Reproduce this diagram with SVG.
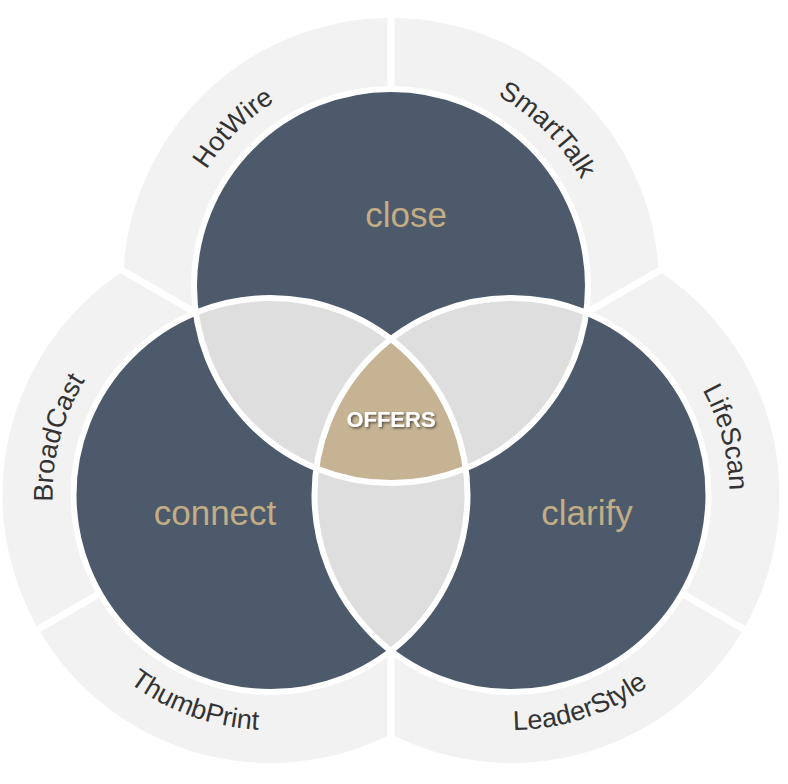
<svg xmlns="http://www.w3.org/2000/svg" width="788" height="784" viewBox="0 0 788 784">
  <style>
    .ring { fill: #f2f2f2; }
    .gap { stroke: #ffffff; stroke-width: 7; fill: none; }
    .dark { fill: #4c5a6b; }
    .lens { fill: #dedede; }
    .core { fill: #c6b393; }
    .outline { fill: none; stroke: #ffffff; stroke-width: 6; }
    .big { font-family: "Liberation Sans", Arial, sans-serif; font-size: 35px; fill: #c3ad85; text-anchor: middle; }
    .lbl { font-family: "Liberation Sans", Arial, sans-serif; font-size: 27px; fill: #333333; text-anchor: middle; }
    .core-t { font-family: "Liberation Sans", Arial, sans-serif; font-size: 22px; font-weight: bold; fill: #ffffff; text-anchor: middle; }
  </style>
  <defs>
    <filter id="sh" x="-20%" y="-40%" width="140%" height="180%">
      <feDropShadow dx="1.5" dy="1.5" stdDeviation="1" flood-color="#000000" flood-opacity="0.55"/>
    </filter>
    <path id="pHot" d="M180.4,342.4 A218,218 0 0 1 447.4,75.4"/>
    <path id="pSmart" d="M334.6,75.4 A218,218 0 0 1 601.6,342.4"/>
    <path id="pBroad" d="M116.4,649.1 A218,218 0 0 1 214.1,284.4"/>
    <path id="pLife" d="M567.9,284.4 A218,218 0 0 1 665.6,649.1"/>
    <path id="pThumb" d="M39.1,535.8 A235,235 0 0 0 421.6,675"/>
    <path id="pLeader" d="M354.3,669.6 A235,235 0 0 0 741.4,543.9"/>
  </defs>

  <g id="ring">
    <circle class="ring" cx="391" cy="286" r="268"/>
    <circle class="ring" cx="270.5" cy="495" r="268"/>
    <circle class="ring" cx="511.5" cy="495" r="268"/>
  </g>

  <g id="connectors">
    <line class="gap" x1="391" y1="100" x2="391" y2="4"/>
    <line class="gap" x1="195.8" y1="312.7" x2="100.5" y2="257.8"/>
    <line class="gap" x1="586.2" y1="312.7" x2="681.5" y2="257.8"/>
    <line class="gap" x1="114.6" y1="585" x2="19.4" y2="640"/>
    <line class="gap" x1="667.4" y1="585" x2="762.6" y2="640"/>
    <line class="gap" x1="391" y1="640" x2="391" y2="780"/>
  </g>

  <g id="close">
    <circle class="dark" cx="391" cy="286" r="197"/>
  </g>
  <g id="connect">
    <circle class="dark" cx="270.5" cy="495" r="197"/>
  </g>
  <g id="clarify">
    <circle class="dark" cx="511.5" cy="495" r="197"/>
  </g>

  <g id="overlaps">
    <path class="lens" d="M195.8,312.7 A197,197 0 0 1 465.7,468.3 A197,197 0 0 1 195.8,312.7 Z"/>
    <path class="lens" d="M316.3,468.3 A197,197 0 0 1 586.2,312.7 A197,197 0 0 1 316.3,468.3 Z"/>
    <path class="lens" d="M391,650.8 A197,197 0 0 1 391,339.2 A197,197 0 0 1 391,650.8 Z"/>
  </g>
  <g id="offers">
    <path class="core" d="M391,339.2 A197,197 0 0 1 465.7,468.3 A197,197 0 0 1 316.3,468.3 A197,197 0 0 1 391,339.2 Z"/>
  </g>

  <g id="outlines">
    <circle class="outline" cx="391" cy="286" r="197"/>
    <circle class="outline" cx="270.5" cy="495" r="197"/>
    <circle class="outline" cx="511.5" cy="495" r="197"/>
  </g>

  <g id="labels">
    <text class="big" x="406" y="227">close</text>
    <text class="big" x="215" y="525">connect</text>
    <text class="big" x="587" y="525">clarify</text>
    <text class="core-t" x="391" y="427" filter="url(#sh)">OFFERS</text>
  </g>

  <g id="ring-labels">
    <text class="lbl"><textPath href="#pHot" startOffset="50%">HotWire</textPath></text>
    <text class="lbl"><textPath href="#pSmart" startOffset="50%">SmartTalk</textPath></text>
    <text class="lbl"><textPath href="#pBroad" startOffset="50%">BroadCast</textPath></text>
    <text class="lbl"><textPath href="#pLife" startOffset="50%">LifeScan</textPath></text>
    <text class="lbl"><textPath href="#pThumb" startOffset="50%">ThumbPrint</textPath></text>
    <text class="lbl"><textPath href="#pLeader" startOffset="50%">LeaderStyle</textPath></text>
  </g>
</svg>
